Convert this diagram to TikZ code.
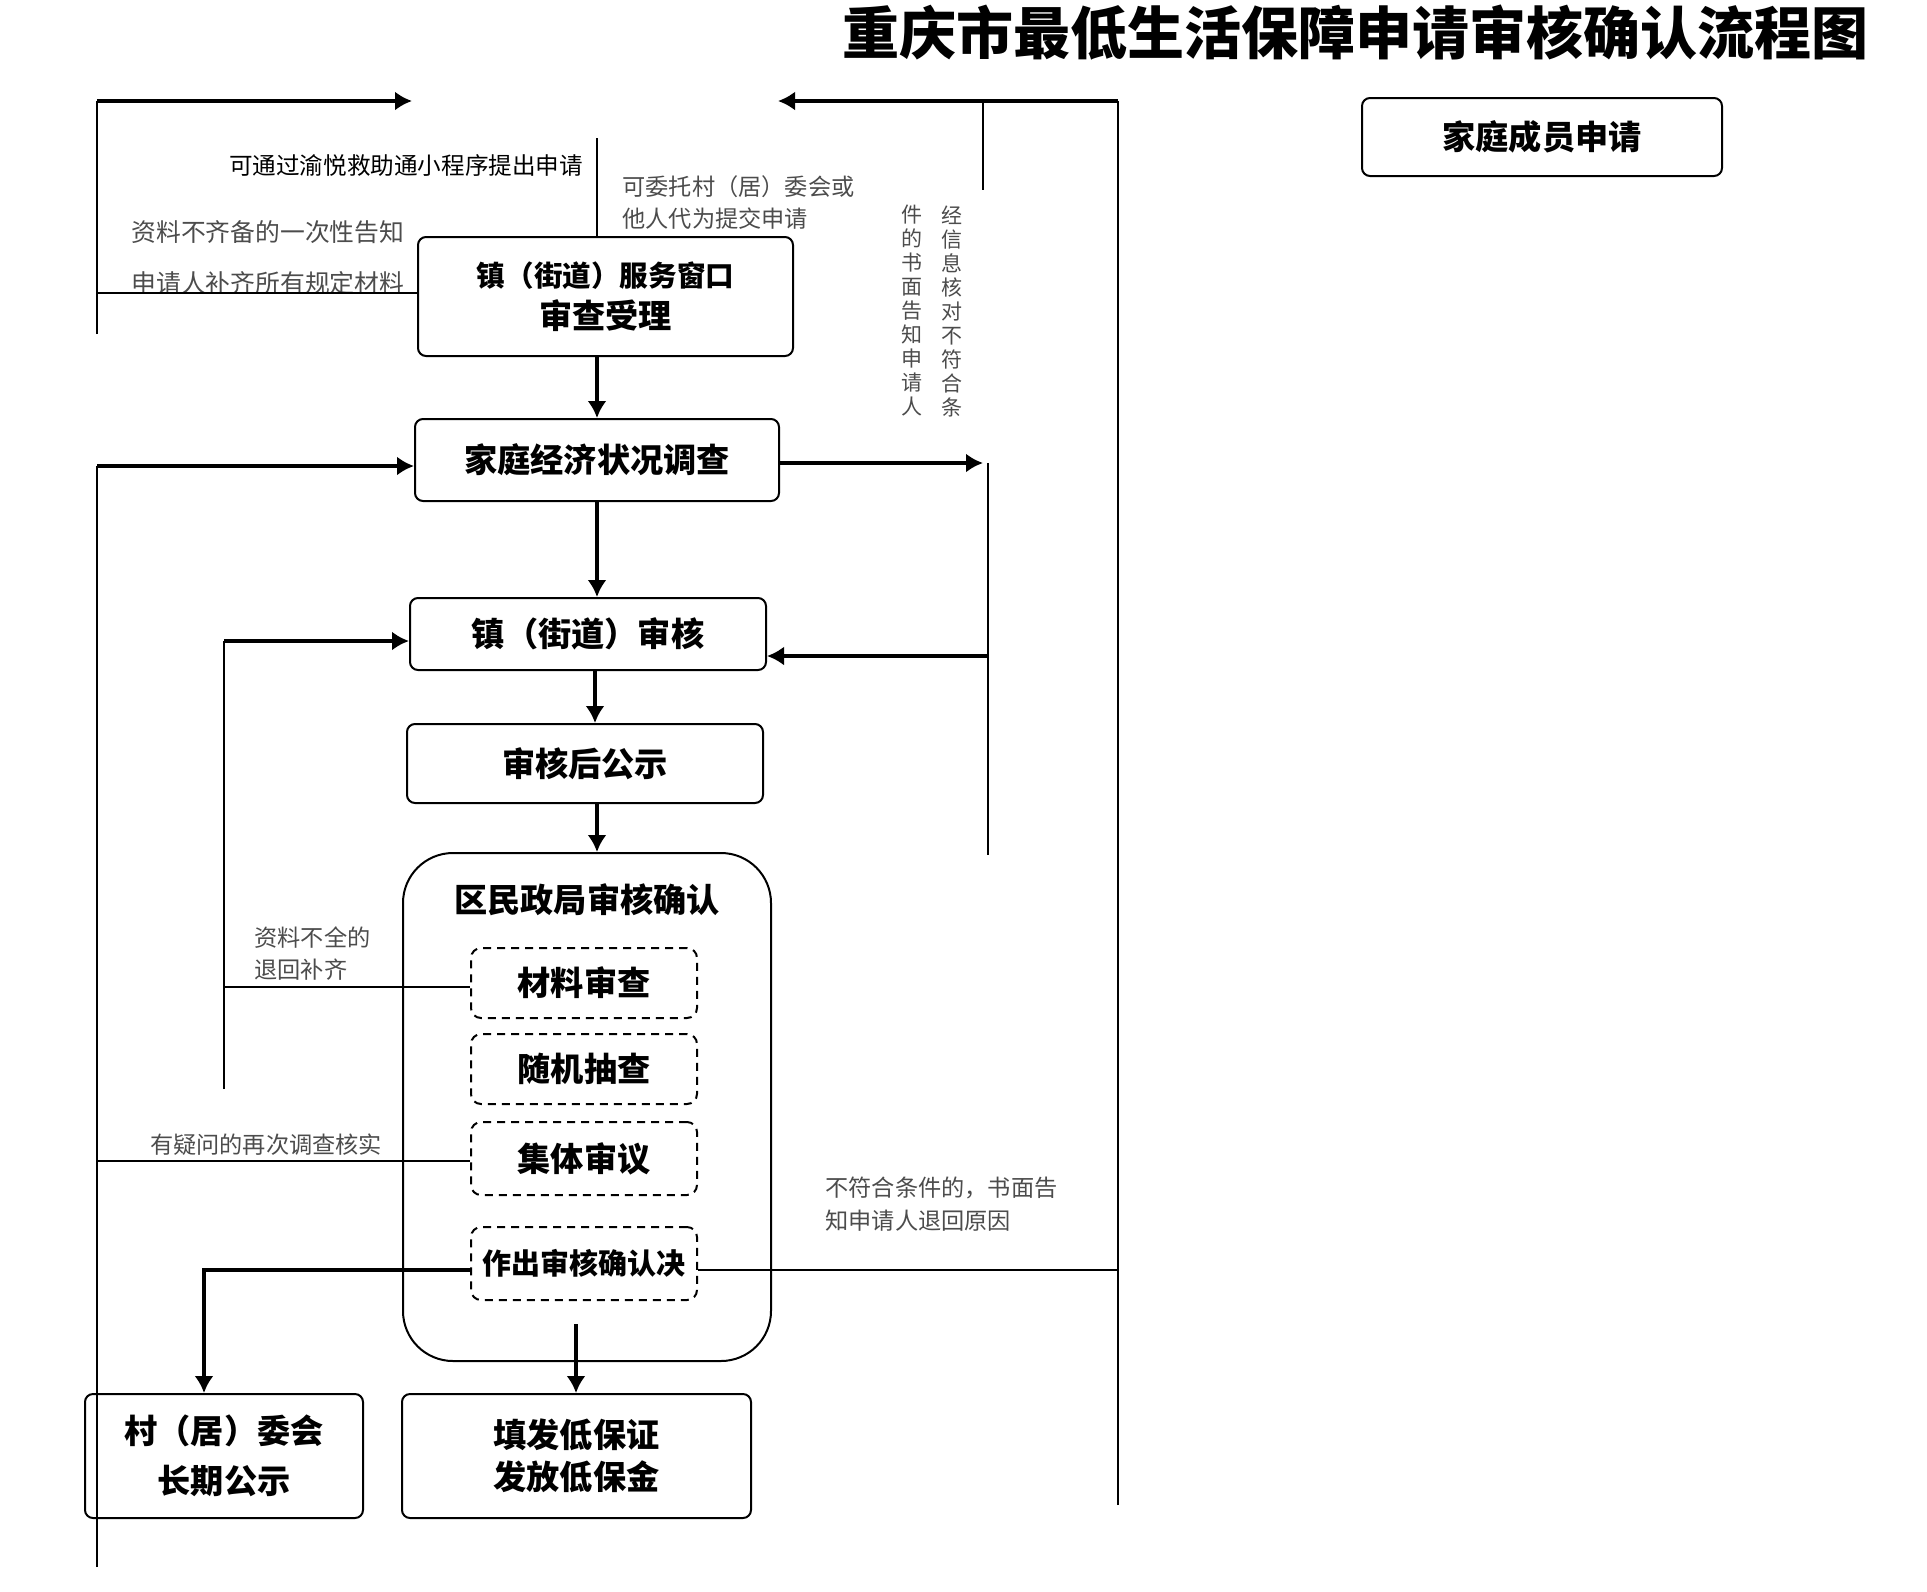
\documentclass[tikz,border=0pt]{standalone}
\usepackage{fontspec}
\setmainfont{Noto Sans CJK SC}
\usetikzlibrary{arrows.meta}

\begin{document}
\begin{tikzpicture}[x=0.5pt, y=-0.5pt, >={Latex[length=8.5pt,width=9.5pt]},
    box/.style={draw, rounded corners=4pt, line width=1pt, inner sep=0pt, align=center,
        font=\bfseries\fontsize{16.6}{21}\selectfont},
    subbox/.style={draw, dash pattern=on 4pt off 3pt, rounded corners=5pt, line width=1pt,
        minimum width=113pt, inner sep=0pt, font=\bfseries\fontsize{16.6}{21}\selectfont},
    note/.style={text=black!70, inner sep=0pt, align=left, font=\fontsize{11.6}{16}\selectfont},
    flow/.style={->, line width=1.6pt},
    link/.style={line width=0.9pt},
    thin link/.style={line width=0.7pt}]
    \useasboundingbox (0,0) rectangle (1927,1591);

    % Nodes {title, apply, window, survey, townrev, publicity, district, etc}
    \node [font=\bfseries\fontsize{28.5}{32}\selectfont]  (title)  at (1355,33)  {重庆市最低生活保障申请审核确认流程图};
    \node [box, minimum width=180pt, minimum height=39pt]   (apply)     at (1542,137)   {家庭成员申请};
    \node [box, minimum width=187.5pt, minimum height=59.5pt] (window)  at (605.5,296.5)
          {{\fontsize{14.3}{18}\selectfont 镇（街道）服务窗口}\\ 审查受理};
    \node [box, minimum width=182pt, minimum height=41pt]   (survey)    at (597,460)    {家庭经济状况调查};
    \node [box, minimum width=178pt, minimum height=36pt]   (townrev)   at (588,634)    {镇（街道）审核};
    \node [box, minimum width=178pt, minimum height=39.5pt] (publicity) at (585,763.5)  {审核后公示};
    \node [draw, rounded corners=25pt, line width=1pt, minimum width=184pt, minimum height=254pt]
          (district) at (587,1107) {};
    \node [font=\bfseries\fontsize{16.6}{21}\selectfont]    (disttitle) at (587,900)    {区民政局审核确认};
    \node [subbox, minimum height=35pt]   (check)      at (584,983)    {材料审查};
    \node [subbox, minimum height=35pt]   (random)     at (584,1069)   {随机抽查};
    \node [subbox, minimum height=36.5pt] (collective) at (584,1158.5) {集体审议};
    \node [subbox, minimum height=36.5pt, font=\bfseries\fontsize{14.5}{18}\selectfont]
          (decide) at (584,1263.5) {作出审核确认决};
    \node [box, minimum width=139pt, minimum height=62pt, font=\bfseries\fontsize{16.6}{25}\selectfont]
          (village) at (224,1456) {村（居）委会\\长期公示};
    \node [box, minimum width=174.5pt, minimum height=62pt] (issue) at (576.5,1456) {填发低保证\\发放低保金};

    % Labels
    \node [note, text=black, font=\fontsize{11.8}{16}\selectfont] (appnote) at (406,166) {可通过渝悦救助通小程序提出申请};
    \node [note, anchor=west] (proxynote) at (622,203) {可委托村（居）委会或\\他人代为提交申请};
    \node [note, anchor=west, font=\fontsize{12.4}{25.5}\selectfont] (missnote) at (131,258)
          {资料不齐备的一次性告知\\申请人补齐所有规定材料};
    \node [note, align=center, font=\fontsize{10.5}{12}\selectfont] (vnoteA) at (952,311)
          {经\\信\\息\\核\\对\\不\\符\\合\\条};
    \node [note, align=center, font=\fontsize{10.5}{12}\selectfont] (vnoteB) at (912,311)
          {件\\的\\书\\面\\告\\知\\申\\请\\人};
    \node [note, anchor=west] (lacknote)   at (254,954)  {资料不全的\\退回补齐};
    \node [note]              (doubtnote)  at (266,1145) {有疑问的再次调查核实};
    \node [note, anchor=west, font=\fontsize{11.6}{16.5}\selectfont] (rejectnote) at (825,1204)
          {不符合条件的，书面告\\知申请人退回原因};

    % Corners of the return lines
    \coordinate (tltop)   at (97,101);
    \coordinate (tlend)   at (412,101);
    \coordinate (tlbot)   at (97,334);
    \coordinate (trtop)   at (1118,101);
    \coordinate (trend)   at (778,101);
    \coordinate (trbot)   at (1118,1505);
    \coordinate (midtop)  at (983,101);
    \coordinate (midbot)  at (983,190);
    \coordinate (apptop)  at (597,138);
    \coordinate (missleft) at (97,293);
    \coordinate (lefttop) at (97,466);
    \coordinate (leftbot) at (97,1567);
    \coordinate (doubtleft) at (97,1161);
    \coordinate (rightout)  at (983,463);
    \coordinate (righttop)  at (988,463);
    \coordinate (rightbot)  at (988,855);
    \coordinate (rightback) at (988,656);
    \coordinate (backtop) at (224,641);
    \coordinate (backbot) at (224,1089);
    \coordinate (backmid) at (224,987);
    \coordinate (rejectright) at (1118,1270);
    \coordinate (villturn) at (204,1270);
    \coordinate (issuestart) at (576,1324);

    % Paths
    \draw [link]  (tlbot) -- (tltop);
    \draw [flow]  (tltop) -- (tlend);
    \draw [link]  (trbot) -- (trtop);
    \draw [flow]  (trtop) -- (trend);
    \draw [link]  (midtop) -- (midbot);
    \draw [link]  (apptop) -- (window.north -| apptop);
    \draw [thin link] (missleft) -- (window.west |- missleft);
    \draw [flow]  (window.south -| apptop) -- (survey.north -| apptop);
    \draw [link]  (leftbot) -- (lefttop);
    \draw [flow]  (lefttop) -- (survey.west |- lefttop);
    \draw [flow]  (survey.east |- rightout) -- (rightout);
    \draw [link]  (righttop) -- (rightbot);
    \draw [flow]  (rightback) -- (townrev.east |- rightback);
    \draw [flow]  (survey.south -| apptop) -- (townrev.north -| apptop);
    \draw [link]  (backbot) -- (backtop);
    \draw [flow]  (backtop) -- (townrev.west |- backtop);
    \draw [thin link] (backmid) -- (check.west |- backmid);
    \draw [flow]  (townrev.south -| 595,0) -- (publicity.north -| 595,0);
    \draw [flow]  (publicity.south -| 597,0) -- (district.north -| 597,0);
    \draw [thin link] (doubtleft) -- (collective.west |- doubtleft);
    \draw [flow]  (decide.west |- villturn) -- (villturn) -- (village.north -| villturn);
    \draw [thin link] (decide.east |- rejectright) -- (rejectright);
    \draw [flow]  (issuestart) -- (issue.north -| issuestart);
\end{tikzpicture}
\end{document}
